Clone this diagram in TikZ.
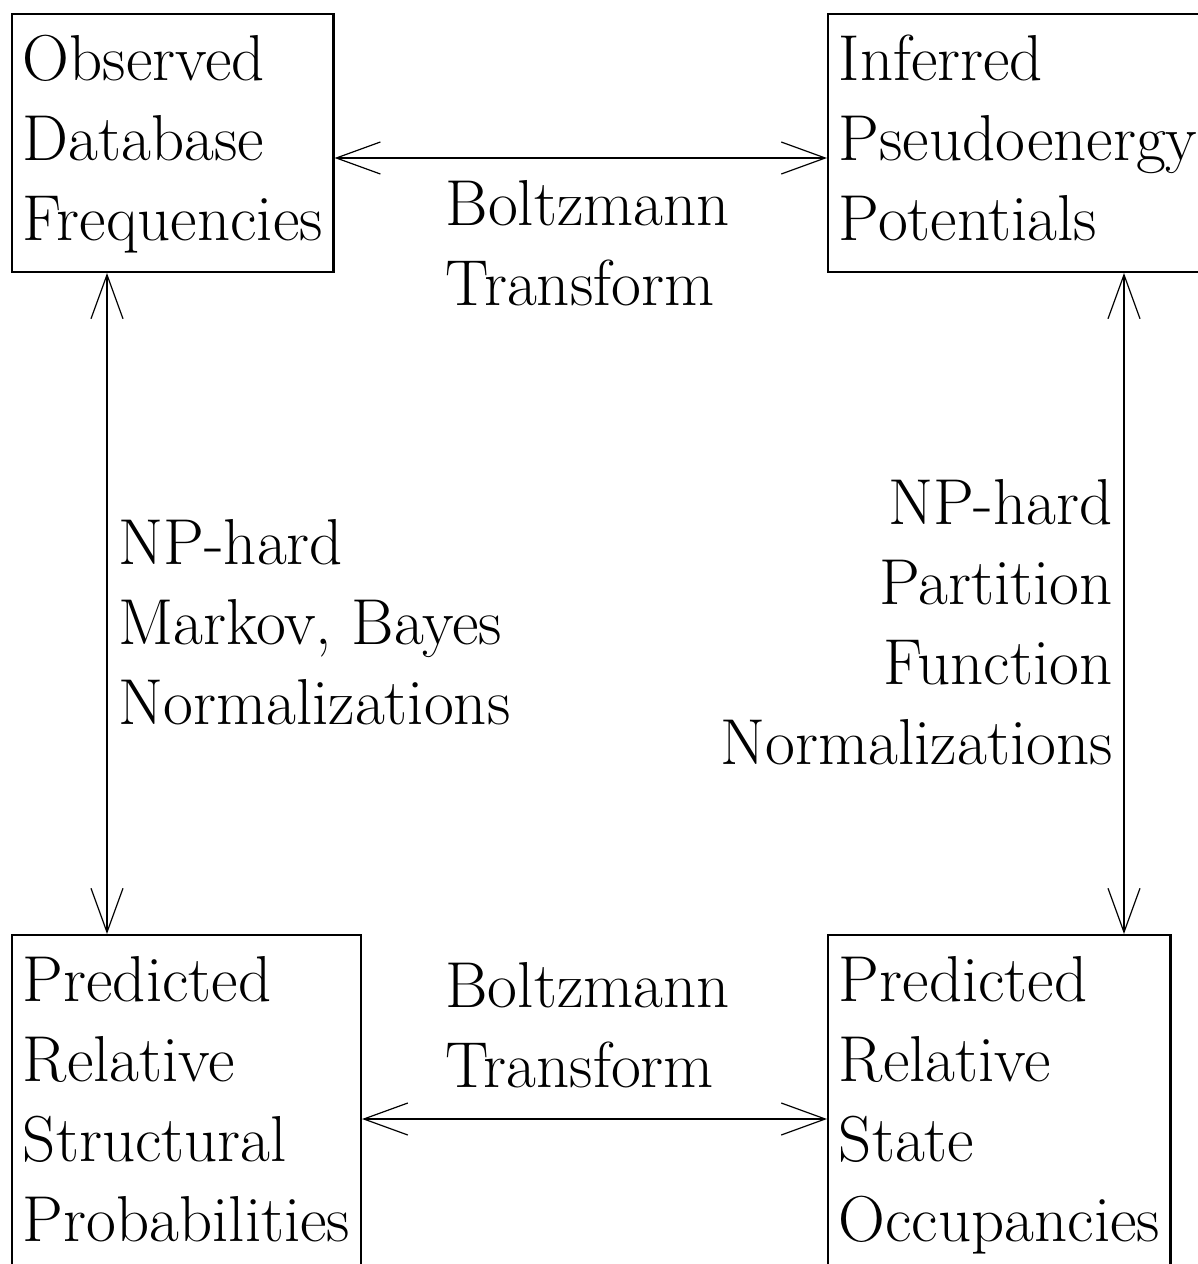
\documentclass[tikz,border=0pt]{standalone}
\usetikzlibrary{arrows.meta,positioning,calc}

\begin{document}
\begin{tikzpicture}[x=0.375pt, y=-0.375pt, font=\fontsize{24.35}{30}\selectfont,
  box/.style={draw, line width=0.9pt, inner sep=4pt, align=left, anchor=north west,
    execute at end node={\rule[-7.6pt]{0pt}{0pt}}},
  lbl/.style={inner sep=4pt, execute at end node={\rule[-7.6pt]{0pt}{0pt}}},
  link/.style={line width=0.6pt,
    {Straight Barb[length=16.5pt,width=12pt,line width=0.45pt]}-{Straight Barb[length=16.5pt,width=12pt,line width=0.45pt]}}]
\useasboundingbox (0,0) rectangle (1198,1264);
% the four quantities
\node[box] (obs) at (11,13) {\strut Observed\\Database\\Frequencies};
\node[box] (pot) at (827,13) {\strut Inferred\\Pseudoenergy\\Potentials};
\node[box] (prob) at (11,934) {\strut Predicted\\Relative\\Structural\\Probabilities};
\node[box] (occ) at (827,934) {\strut Predicted\\Relative\\State\\Occupancies};
% transforms between them
\draw[link] ($(obs.east)+(0,15)$) -- node[lbl, below, xshift=2.6pt, align=left] {\strut Boltzmann\\Transform} ($(pot.west)+(0,15)$);
\draw[link] ($(prob.east)+(0,15)$) -- node[lbl, above, xshift=-2.6pt, align=left] {\strut Boltzmann\\Transform} ($(occ.west)+(0,15)$);
\draw[link] ($(obs.south west)+(96,0)$) -- node[lbl, right, yshift=-8.8pt, align=left] {\strut NP-hard\\Markov, Bayes\\Normalizations} ($(prob.north west)+(96,0)$);
\draw[link] ($(pot.south west)+(297,0)$) -- node[lbl, left, yshift=-8.8pt, align=right] {\strut NP-hard\\Partition\\Function\\Normalizations} ($(occ.north west)+(297,0)$);
\end{tikzpicture}
\end{document}
